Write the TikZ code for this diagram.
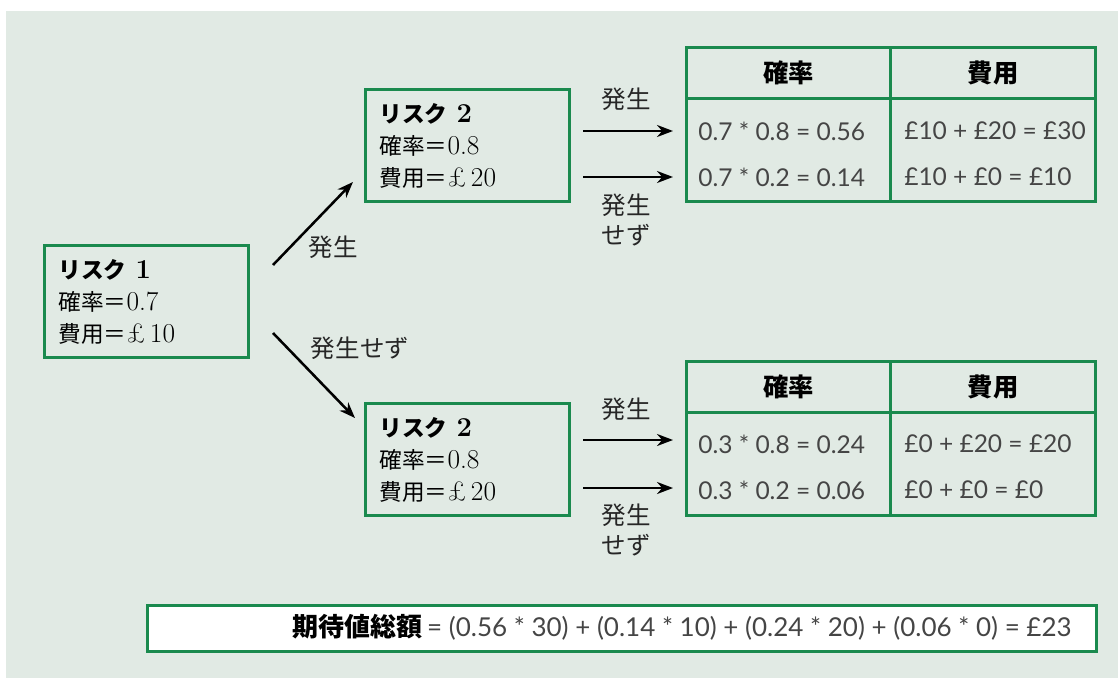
\documentclass[tikz,border=0pt]{standalone}
\usepackage{fontspec}
\newfontfamily\cjk{Noto Sans CJK JP}
\newfontfamily\sansnum{Lato}
\usetikzlibrary{arrows.meta}
\definecolor{bg}{HTML}{E1EAE4}
\definecolor{gr}{HTML}{1A8A4E}
\definecolor{tx}{HTML}{454545}
\newcommand\J[1]{{\cjk\fontsize{17}{24}\selectfont #1}}
\newcommand\JB[1]{{\cjk\bfseries\fontsize{17}{24}\selectfont #1}}
\begin{document}
\begin{tikzpicture}[x=0.75pt,y=-0.75pt,
 riskbox/.style={draw=gr,line width=2.25pt,anchor=north west,minimum width=153pt,minimum height=84pt,text width=132pt,inner xsep=10.5pt,inner ysep=0pt,align=left,font=\fontsize{20.5}{24}\selectfont},
 cell/.style={draw=gr,line width=2.25pt,anchor=north west,inner sep=0pt},
 arr/.style={-{Stealth[length=12pt,width=9pt]},line width=1.9pt},
 lbl/.style={font=\cjk\fontsize{18.4}{23}\selectfont,inner sep=0pt,align=center,text=black!85},
 num/.style={font=\sansnum\fontsize{18.4}{20}\selectfont,text=tx,anchor=west,inner sep=0pt},
 hdr/.style={font=\cjk\bfseries\fontsize{19}{20}\selectfont,inner sep=0pt}]
\useasboundingbox (0,0) rectangle (1118,678);
\fill[white] (0,0) rectangle (1118,678);
\fill[bg] (6,11) rectangle (1118,678);

% risk boxes
\node[riskbox] (r1) at (43,244) {\JB{リスク} \textbf{1}\\\J{確率＝}0.7\\\J{費用＝}£\,10};
\node[riskbox] (r2a) at (364,88) {\JB{リスク} \textbf{2}\\\J{確率＝}0.8\\\J{費用＝}£\,20};
\node[riskbox] (r2b) at (364,402) {\JB{リスク} \textbf{2}\\\J{確率＝}0.8\\\J{費用＝}£\,20};

% diagonal arrows
\coordinate (d1s) at (273,265); \coordinate (d1e) at (353,182);
\coordinate (d2s) at (273,333); \coordinate (d2e) at (355,418);
\draw[arr] (d1s) -- (d1e);
\draw[arr] (d2s) -- (d2e);
\node[lbl] (l1) at (333,247) {発生};
\node[lbl] (l2) at (360,348) {発生せず};

% upper table
\node[cell,minimum width=153pt,minimum height=38.25pt] (u11) at (685,46) {};
\node[cell,minimum width=153.75pt,minimum height=38.25pt] (u12) at (889,46) {};
\node[cell,minimum width=153pt,minimum height=77.25pt] (u21) at (685,97) {};
\node[cell,minimum width=153.75pt,minimum height=77.25pt] (u22) at (889,97) {};
\node[hdr] (uh1) at (u11.center) {確率};
\node[hdr] (uh2) at (u12.center) {費用};
\node[num] (ua1) at (698,131) {0.7 * 0.8 = 0.56};
\node[num] (ua2) at (698,177) {0.7 * 0.2 = 0.14};
\node[num] (ub1) at (904,131) {£10 + £20 = £30};
\node[num] (ub2) at (904,177) {£10 + £0 = £10};

% lower table
\node[cell,minimum width=153pt,minimum height=38.25pt] (v11) at (685,360) {};
\node[cell,minimum width=153.75pt,minimum height=38.25pt] (v12) at (889,360) {};
\node[cell,minimum width=153pt,minimum height=77.25pt] (v21) at (685,411) {};
\node[cell,minimum width=153.75pt,minimum height=77.25pt] (v22) at (889,411) {};
\node[hdr] (vh1) at (v11.center) {確率};
\node[hdr] (vh2) at (v12.center) {費用};
\node[num] (va1) at (698,444) {0.3 * 0.8 = 0.24};
\node[num] (va2) at (698,490) {0.3 * 0.2 = 0.06};
\node[num] (vb1) at (904,444) {£0 + £20 = £20};
\node[num] (vb2) at (904,490) {£0 + £0 = £0};

% horizontal arrows
\coordinate (h1) at (583,131); \coordinate (h2) at (583,177);
\coordinate (h3) at (583,440); \coordinate (h4) at (583,488);
\draw[arr,shorten >=9pt] (h1) -- (h1 -| u21.west);
\draw[arr,shorten >=9pt] (h2) -- (h2 -| u21.west);
\draw[arr,shorten >=9pt] (h3) -- (h3 -| v21.west);
\draw[arr,shorten >=9pt] (h4) -- (h4 -| v21.west);
\node[lbl] (hl1) at (626,99) {発生};
\node[lbl] (hl2) at (626,220) {発生\\せず};
\node[lbl] (hl3) at (626,409) {発生};
\node[lbl] (hl4) at (626,530) {発生\\せず};

% total
\node[draw=gr,line width=2.25pt,fill=white,anchor=north west,minimum width=711.75pt,minimum height=34.5pt,inner sep=0pt] (tot) at (146,604) {};
\node[anchor=east,inner sep=0pt] (totx) at (1072,627) {{\cjk\bfseries\fontsize{19.5}{20}\selectfont 期待値総額} {\sansnum\fontsize{19.5}{20}\selectfont\color{tx}= (0.56 * 30) + (0.14 * 10) + (0.24 * 20) + (0.06 * 0) = £23}};
\end{tikzpicture}
\end{document}
